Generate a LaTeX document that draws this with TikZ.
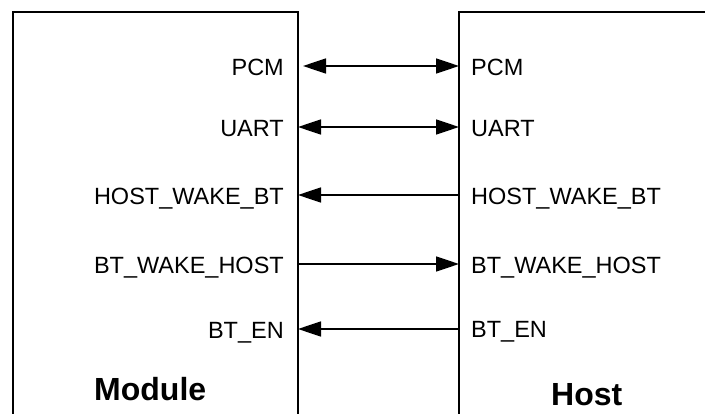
\documentclass[tikz,border=0pt]{standalone}
\usepackage{fontspec}
\setmainfont{Liberation Sans}
\usetikzlibrary{arrows.meta}
\begin{document}
\begin{tikzpicture}[x=1pt,y=-1pt,
  boxline/.style={line width=1.7pt},
  sig/.style={line width=1.7pt},
  lpin/.style={anchor=base east,inner sep=0pt,font=\fontsize{23.5}{28}\selectfont},
  rpin/.style={anchor=base west,inner sep=0pt,font=\fontsize{23.5}{28}\selectfont},
  title/.style={anchor=base west,inner sep=0pt,font=\fontsize{32}{36}\selectfont\bfseries}]
\useasboundingbox (0,0) rectangle (705,414);
% boxes
\draw[boxline] (13,420) -- (13,12) -- (298,12) -- (298,420);
\draw[boxline] (459,420) -- (459,12) -- (710,12);
% pin coordinates
\foreach \n/\y in {pcm/66,uart/127,hwb/195,bwh/264,en/329}{
  \coordinate (m\n) at (298,\y);
  \coordinate (h\n) at (459,\y);
}
% labels
\node[lpin] (lpcm) at (284,76) {PCM};
\node[lpin] (luart) at (284,137) {UART};
\node[lpin] (lhwb) at (284,205) {HOST\_WAKE\_BT};
\node[lpin] (lbwh) at (284,274) {BT\_WAKE\_HOST};
\node[lpin] (len) at (284,339) {BT\_EN};
\node[rpin] (rpcm) at (471,76) {PCM};
\node[rpin] (ruart) at (471,137) {UART};
\node[rpin] (rhwb) at (471,205) {HOST\_WAKE\_BT};
\node[rpin] (rbwh) at (471,274) {BT\_WAKE\_HOST};
\node[rpin] (ren) at (471,338) {BT\_EN};
\node[title] (module) at (94,400) {Module};
\node[title] (host) at (551,406) {Host};
% connectors
\draw[sig,{Triangle[length=23pt,width=15pt]}-{Triangle[length=23pt,width=15pt]},shorten <=5pt] (mpcm) -- (hpcm);
\draw[sig,{Triangle[length=23pt,width=15pt]}-{Triangle[length=23pt,width=15pt]}] (muart) -- (huart);
\draw[sig,-{Triangle[length=23pt,width=15pt]}] (hhwb) -- (mhwb);
\draw[sig,-{Triangle[length=23pt,width=15pt]}] (mbwh) -- (hbwh);
\draw[sig,-{Triangle[length=23pt,width=15pt]}] (hen) -- (men);
\end{tikzpicture}
\end{document}
